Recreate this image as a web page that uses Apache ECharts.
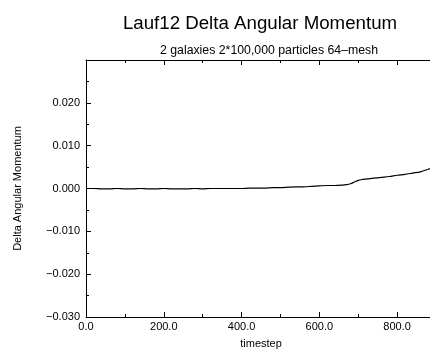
<!DOCTYPE html>
<html>
<head>
<meta charset="utf-8">
<script src="https://cdn.jsdelivr.net/npm/echarts@6/dist/echarts.min.js"></script>
<style>
  html, body { margin: 0; padding: 0; background: #fff; overflow: hidden; }
  #chart { width: 430px; height: 349px; }
</style>
</head>
<body>
<div id="chart"></div>
<script>
// Simulation run: change in total angular momentum over time
const timesteps = [0, 20, 40, 60, 80, 100, 120, 140, 160, 180, 200, 220, 240, 260, 280, 300,
  320, 340, 360, 380, 400, 420, 440, 460, 480, 500, 520, 540, 560, 580, 600, 620, 640, 660,
  670, 680, 690, 700, 710, 720, 740, 760, 780, 800, 820, 840, 860, 880, 900];
const deltaL = [0.0000, 0.0000, -0.0001, -0.0001, 0.0000, -0.0001, -0.0001, 0.0000, -0.0001,
  -0.0001, 0.0000, -0.0001, -0.0001, -0.0001, 0.0000, -0.0001, 0.0000, 0.0000, 0.0000, 0.0000,
  0.0000, 0.0001, 0.0001, 0.0001, 0.0002, 0.0002, 0.0003, 0.0004, 0.0004, 0.0005, 0.0006,
  0.0007, 0.0007, 0.0008, 0.0009, 0.0011, 0.0015, 0.0019, 0.0021, 0.0022, 0.0024, 0.0026,
  0.0028, 0.0031, 0.0033, 0.0036, 0.0039, 0.0045, 0.0050];
const xTicks = { min: 0, max: 900, step: 200 };
const yTicks = { min: -0.03, max: 0.03, step: 0.01 };

const font = 'Liberation Sans, Arial, Helvetica, sans-serif';
const chart = echarts.init(document.getElementById('chart'), null, { width: 430, height: 349 });

const baseAxis = {
  axisLine: { onZero: false, lineStyle: { color: '#000', width: 1 } },
  axisTick: { inside: true, length: 5, lineStyle: { color: '#000' } },
  minorTick: { show: true, splitNumber: 2, length: 3, lineStyle: { color: '#000' } },
  splitLine: { show: false },
  minorSplitLine: { show: false }
};

chart.setOption({
  animation: false,
  backgroundColor: '#fff',
  title: [
    { text: 'Lauf12 Delta Angular Momentum', left: 255, top: 9, textAlign: 'center',
      textStyle: { fontFamily: font, fontSize: 18.7, fontWeight: 'normal', color: '#000' } },
    { text: '2 galaxies 2*100,000 particles 64\u2013mesh', left: 264, top: 40, textAlign: 'center',
      textStyle: { fontFamily: font, fontSize: 12.3, fontWeight: 'normal', color: '#000' } }
  ],
  // plot frame runs past the right edge of the canvas
  grid: { left: 86, top: 60, width: 350, height: 257, containLabel: false, outerBoundsMode: 'none' },
  xAxis: [
    Object.assign({}, baseAxis, {
      type: 'value', position: 'bottom', min: xTicks.min, max: xTicks.max, interval: xTicks.step,
      name: 'timestep', nameLocation: 'middle', nameGap: 21,
      nameTextStyle: { fontFamily: font, fontSize: 11, color: '#000' },
      axisLabel: { fontFamily: font, fontSize: 11, color: '#000', margin: 4, showMaxLabel: false,
        formatter: v => (v > 850 ? '' : v.toFixed(1)) }
    }),
    Object.assign({}, baseAxis, {
      type: 'value', position: 'top', min: xTicks.min, max: xTicks.max, interval: xTicks.step,
      axisLabel: { show: false }
    })
  ],
  yAxis: [
    Object.assign({}, baseAxis, {
      type: 'value', min: yTicks.min, max: yTicks.max, interval: yTicks.step,
      name: 'Delta Angular Momentum', nameLocation: 'middle', nameGap: 63,
      nameTextStyle: { fontFamily: font, fontSize: 11, color: '#000' },
      axisLabel: { fontFamily: font, fontSize: 11, color: '#000', margin: 6,
        formatter: v => (v > 0.025 ? '' : v.toFixed(3).replace('-', '\u2212')) }
    })
  ],
  series: [{
    type: 'line',
    data: timesteps.map((t, i) => [t, deltaL[i]]),
    showSymbol: false,
    smooth: 0.3,
    lineStyle: { color: '#000', width: 1.2 },
    clip: true
  }]
});
</script>
</body>
</html>
